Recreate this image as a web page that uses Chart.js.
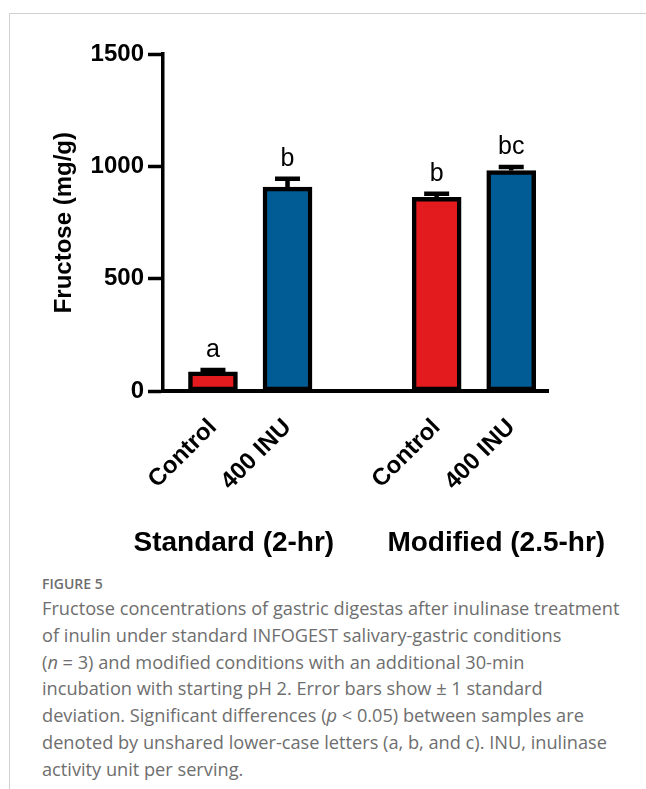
<!DOCTYPE html>
<html><head><meta charset="utf-8">
<script src="https://cdn.jsdelivr.net/npm/chart.js@4.4.0/dist/chart.umd.min.js"></script>
<style>
html,body{margin:0;padding:0;background:#fff;width:646px;height:789px;overflow:hidden;}
#frameTop{position:absolute;left:9px;top:13px;width:637px;height:0;border-top:1.5px solid #d0d0d0;}
#frameLeft{position:absolute;left:9px;top:13px;width:0;height:776px;border-left:1.5px solid #d0d0d0;}
#wrap{position:absolute;left:0;top:0;width:646px;height:570px;}
#caption{position:absolute;left:42px;top:575px;width:604px;font-family:'Open Sans',sans-serif;color:#6e6e6e;}
.fig{font-size:14px;font-weight:600;line-height:18px;margin-bottom:2px;}
.txt{font-size:18.2px;line-height:26.8px;white-space:nowrap;}
</style></head>
<body>
<div id="frameTop"></div><div id="frameLeft"></div>
<div id="wrap"><canvas id="c" width="646" height="570"></canvas></div>
<div id="caption">
<div class="fig">FIGURE 5</div>
<div class="txt">Fructose concentrations of gastric digestas after inulinase treatment</div>
<div class="txt">of inulin under standard INFOGEST salivary-gastric conditions</div>
<div class="txt">(<i>n</i> = 3) and modified conditions with an additional 30-min</div>
<div class="txt">incubation with starting pH 2. Error bars show ± 1 standard</div>
<div class="txt">deviation. Significant differences (<i>p</i> &lt; 0.05) between samples are</div>
<div class="txt">denoted by unshared lower-case letters (a, b, and c). INU, inulinase</div>
<div class="txt">activity unit per serving.</div>
</div>
<script>
// ---- data ----
const groups = ['Standard (2-hr)', 'Modified (2.5-hr)'];
const categories = ['Control', '400 INU', 'Control', '400 INU'];
const groupOf = [0, 0, 1, 1];
const means = [87, 908, 863, 982];
const sds = [8, 37, 15, 15];
const letters = ['a', 'b', 'b', 'bc'];
const yTicks = [0, 500, 1000, 1500];
const barColors = ['#e31b1f', '#015c96', '#e31b1f', '#015c96'];

// slot index on the x axis: each group takes its bars plus one empty gap slot
const perGroup = 2;
const slots = categories.map((c, i) => groupOf[i] * (perGroup + 1) + (i % perGroup));

const FONT = '"Liberation Sans", Arial, Helvetica, sans-serif';

const annot = {
  id: 'annot',
  afterDatasetsDraw(chart, args, opts) {
    const {ctx, scales: {x, y}} = chart;
    ctx.save();
    ctx.strokeStyle = '#000';
    ctx.lineWidth = opts.lw;
    ctx.lineCap = 'butt';
    ctx.fillStyle = '#000';
    means.forEach((m, i) => {
      const px = x.getPixelForValue(slots[i]);
      const py = y.getPixelForValue(m);
      const pt = y.getPixelForValue(m + sds[i]);
      ctx.beginPath();
      ctx.moveTo(px, py); ctx.lineTo(px, pt);
      ctx.moveTo(px - opts.cap / 2, pt); ctx.lineTo(px + opts.cap / 2, pt);
      ctx.stroke();
      ctx.font = '25px ' + FONT;
      ctx.textAlign = 'center';
      ctx.textBaseline = 'alphabetic';
      ctx.fillText(letters[i], px, pt - opts.lw / 2 - 10.5);
    });
    ctx.font = 'bold 28px ' + FONT;
    ctx.textAlign = 'center';
    ctx.textBaseline = 'alphabetic';
    groups.forEach((g, k) => {
      const center = k * (perGroup + 1) + (perGroup - 1) / 2 + opts.groupShift[k];
      ctx.fillText(g, x.getPixelForValue(center), opts.groupBaseline);
    });
    ctx.restore();
  }
};

new Chart(document.getElementById('c'), {
  type: 'bar',
  data: {
    datasets: [{
      data: means.map((m, i) => ({x: slots[i], y: m})),
      backgroundColor: barColors,
      borderColor: '#000',
      borderWidth: 4.5,
      borderSkipped: false,
      barThickness: 49
    }]
  },
  plugins: [annot],
  options: {
    responsive: false,
    animation: false,
    devicePixelRatio: 1,
    layout: {padding: {left: 0, top: 54, right: 97.5, bottom: 0}},
    plugins: {
      legend: {display: false},
      tooltip: {enabled: false},
      annot: {lw: 4.5, cap: 25, groupShift: [-0.22, 0.3], groupBaseline: 551}
    },
    scales: {
      x: {
        type: 'linear',
        offset: false,
        min: -0.67,
        max: 4.5,
        afterFit(s) { s.height = 178.7; },
        afterBuildTicks(s) { s.ticks = slots.map(v => ({value: v})); },
        grid: {display: false, drawTicks: false},
        border: {display: true, color: '#000', width: 4},
        ticks: {
          autoSkip: false,
          minRotation: 45, maxRotation: 45,
          padding: 22,
          color: '#000',
          font: {family: FONT, size: 24, weight: 'bold'},
          callback: (v, i) => categories[i]
        }
      },
      y: {
        min: 0, max: 1500,
        afterFit(s) { s.width = 163; },
        afterBuildTicks(s) { s.ticks = yTicks.map(v => ({value: v})); },
        grid: {display: true, drawOnChartArea: false, drawTicks: true, tickLength: 15, tickWidth: 3.5, tickColor: '#000'},
        border: {display: true, color: '#000', width: 3.5},
        ticks: {
          padding: 4,
          color: '#000',
          font: {family: FONT, size: 24, weight: 'bold'},
          callback: v => String(v)
        },
        title: {
          display: true,
          text: 'Fructose (mg/g)',
          color: '#000',
          font: {family: FONT, size: 24, weight: 'bold'},
          padding: {top: 49.6, bottom: 0}
        }
      }
    }
  }
});
</script>
</body></html>
